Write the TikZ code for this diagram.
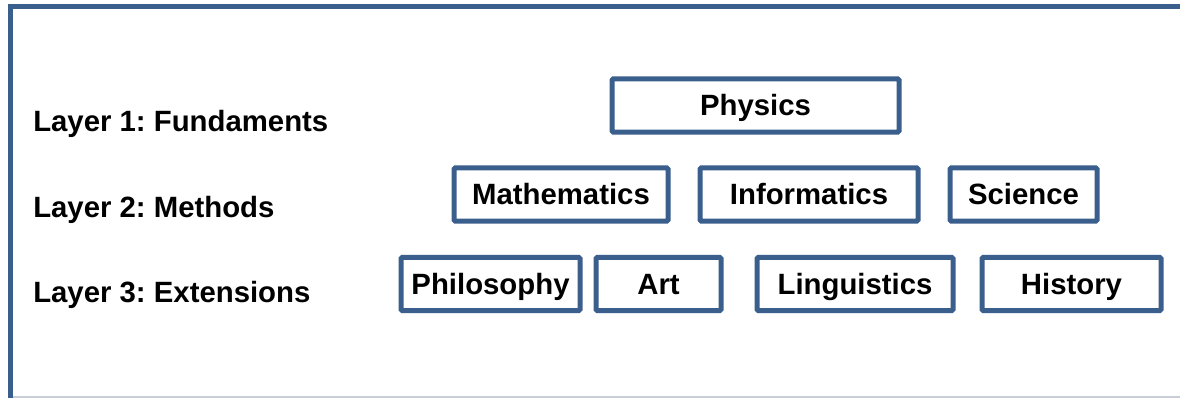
\documentclass[tikz,border=0pt]{standalone}
\usepackage{fontspec}
\setmainfont{Liberation Sans}
\frenchspacing
\definecolor{boxblue}{HTML}{3A5F8D}
\definecolor{edgegray}{HTML}{C9CED6}

\begin{document}
\begin{tikzpicture}[
    x=0.75pt, y=-0.75pt,
    every node/.style={font=\fontsize{22}{26}\selectfont\bfseries},
    layer/.style={anchor=base west, inner sep=0pt},
    field/.style={draw=boxblue, line width=3.75pt, rounded corners=1pt,
      minimum width=#1*0.75pt, minimum height=40pt,
      text height=15.5pt, text depth=0pt, inner sep=0pt}
  ]
  \useasboundingbox (0,0) rectangle (1180,398);

  % frame
  \draw[edgegray, line width=1.5pt] (10,396.5) -- (1180,396.5);
  \draw[boxblue, line width=3.75pt] (10,398) -- (10,7) -- (1180,7);

  % layer names
  \node[layer] (l1) at (33,132) {Layer 1: Fundaments};
  \node[layer] (l2) at (33,218) {Layer 2: Methods};
  \node[layer] (l3) at (33,303) {Layer 3: Extensions};

  % layer 1
  \node[field=287] (phys) at (755.5,105.5) {Physics};

  % layer 2
  \node[field=214] (math) at (561,194.5) {Mathematics};
  \node[field=218] (info) at (809,194.5) {Informatics};
  \node[field=147] (sci)  at (1023.5,194.5) {Science};

  % layer 3
  \node[field=179] (philo) at (490.5,284) {Philosophy};
  \node[field=125] (art)   at (658.5,284) {Art};
  \node[field=196] (ling)  at (855,284) {Linguistics};
  \node[field=179] (hist)  at (1071.5,284) {History};
\end{tikzpicture}
\end{document}
